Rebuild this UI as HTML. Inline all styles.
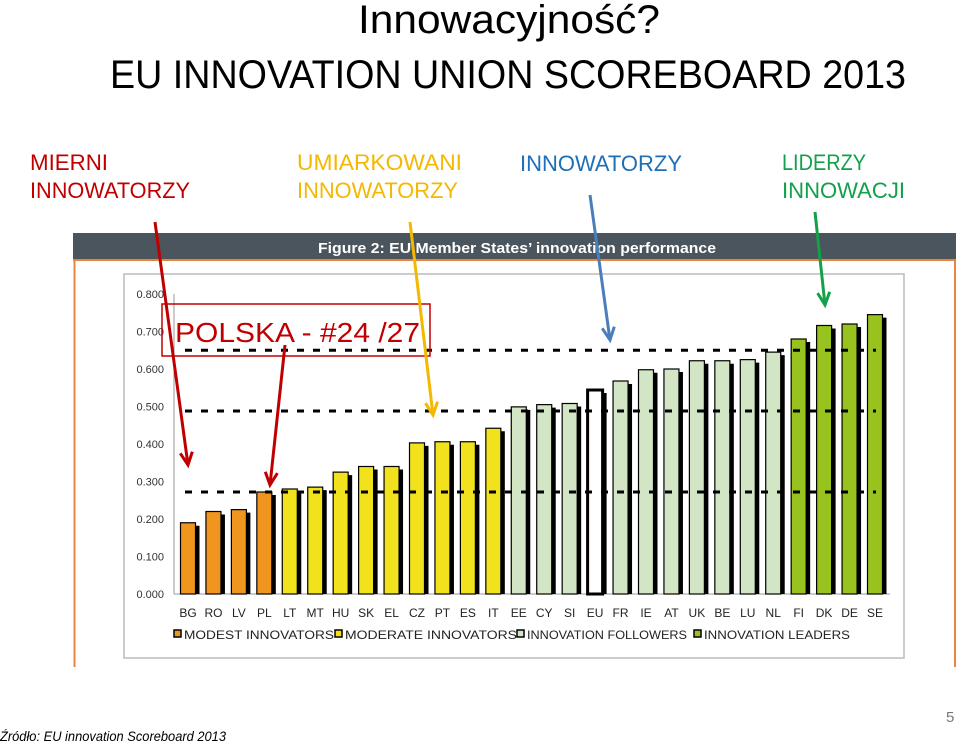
<!DOCTYPE html>
<html><head><meta charset="utf-8"><style>
html,body{margin:0;padding:0;background:#fff;width:960px;height:744px;overflow:hidden}
svg{display:block}
text{font-family:"Liberation Sans Narrow","Liberation Sans",sans-serif}
</style></head><body>
<svg id="s" width="960" height="744" viewBox="0 0 960 744" xmlns="http://www.w3.org/2000/svg">
<text x="358" y="33" font-size="40" textLength="302" lengthAdjust="spacingAndGlyphs">Innowacyjność?</text>
<text x="110" y="88" font-size="40" textLength="796" lengthAdjust="spacingAndGlyphs">EU INNOVATION UNION SCOREBOARD 2013</text>
<g font-size="22">
<text x="30" y="170" fill="#c00000" textLength="78" lengthAdjust="spacingAndGlyphs">MIERNI</text>
<text x="30" y="198" fill="#c00000" textLength="160" lengthAdjust="spacingAndGlyphs">INNOWATORZY</text>
<text x="297" y="170" fill="#f5b800" textLength="165" lengthAdjust="spacingAndGlyphs">UMIARKOWANI</text>
<text x="297" y="198" fill="#f5b800" textLength="161" lengthAdjust="spacingAndGlyphs">INNOWATORZY</text>
<text x="520" y="171" fill="#1f6fb8" textLength="162" lengthAdjust="spacingAndGlyphs">INNOWATORZY</text>
<text x="782" y="170" fill="#13a04a" textLength="84" lengthAdjust="spacingAndGlyphs">LIDERZY</text>
<text x="782" y="198" fill="#13a04a" textLength="123" lengthAdjust="spacingAndGlyphs">INNOWACJI</text>
</g>
<rect x="73" y="233" width="883" height="27" fill="#4b555d"/>
<line x1="73" y1="260" x2="956" y2="260" stroke="#e8843c" stroke-width="2"/>
<text x="318" y="253" font-size="15" fill="#fff" font-weight="bold" textLength="398" lengthAdjust="spacingAndGlyphs" style="font-family:'Liberation Sans',sans-serif">Figure 2: EU Member States’ innovation performance</text>
<line x1="74.5" y1="260" x2="74.5" y2="667" stroke="#e8843c" stroke-width="2"/>
<line x1="955" y1="260" x2="955" y2="667" stroke="#e8843c" stroke-width="2"/>
<rect x="124" y="274" width="780" height="384" fill="#fff" stroke="#bbb" stroke-width="1.5"/>
<g id="chart"></g>
<rect x="162" y="304" width="268" height="52" fill="none" stroke="#c00000" stroke-width="1.5"/>
<text x="175" y="342" font-size="28" fill="#c00000" textLength="245" lengthAdjust="spacingAndGlyphs">POLSKA - #24 /27</text>
<g id="arrows"></g>
<text x="0" y="741" font-size="14" font-style="italic" textLength="226" lengthAdjust="spacingAndGlyphs">Źródło: EU innovation Scoreboard 2013</text>
<text x="946" y="722" font-size="15" fill="#777">5</text>
</svg>
<script>
const categories=["BG","RO","LV","PL","LT","MT","HU","SK","EL","CZ","PT","ES","IT","EE","CY","SI","EU","FR","IE","AT","UK","BE","LU","NL","FI","DK","DE","SE"];
const values=[0.19,0.22,0.225,0.272,0.28,0.285,0.325,0.34,0.34,0.403,0.406,0.406,0.442,0.499,0.505,0.508,0.544,0.568,0.598,0.6,0.622,0.622,0.625,0.645,0.68,0.716,0.72,0.745];
const groups=["m","m","m","m","o","o","o","o","o","o","o","o","o","f","f","f","e","f","f","f","f","f","f","f","l","l","l","l"];
const groupAverages=[0.272,0.488,0.65];
const yTicks=[0,0.1,0.2,0.3,0.4,0.5,0.6,0.7,0.8];
const legendLabels=["MODEST INNOVATORS","MODERATE INNOVATORS","INNOVATION FOLLOWERS","INNOVATION LEADERS"];
const NS="http://www.w3.org/2000/svg";
const g=document.getElementById('chart');
const y0=594,ppu=375,x0=188,step=(875-188)/27,bw=15;
const y=v=>y0-v*ppu, x=i=>x0+i*step;
const fills={m:"#f0951e",o:"#f2e21e",f:"#d2e6c6",e:"#ffffff",l:"#98c21e"};
function mk(t,a,p){const e=document.createElementNS(NS,t);for(const k in a)e.setAttribute(k,a[k]);(p||g).appendChild(e);return e;}
// axis
let ax=mk('line',{x1:174,y1:294,x2:174,y2:y0,stroke:'#999'});


let bx=mk('line',{x1:174,y1:y0,x2:890,y2:y0,stroke:'#999'});


yTicks.forEach(t=>{
 const tl=mk('text',{x:164,y:y(t)+4,'font-size':11,'text-anchor':'end',fill:'#333',style:"font-family:'Liberation Sans',sans-serif"});
 tl.textContent=t.toFixed(3);
 
 
});
categories.forEach((c,i)=>{
 const v=values[i],cx=x(i);
 const sh=mk('rect',{x:cx-bw/2+4,y:y(v)+3,width:bw,height:y0-y(v)-3,fill:'#000'});
 
 
 const b=mk('rect',{x:cx-bw/2,y:y(v),width:bw,height:y0-y(v),fill:fills[groups[i]],stroke:'#000','stroke-width':groups[i]=='e'?3:1.2});
 
 
 const l=mk('text',{x:cx,y:617,'font-size':12,'text-anchor':'middle',fill:'#222',style:"font-family:'Liberation Sans',sans-serif"});
 l.textContent=c;
 
 
});
groupAverages.forEach(a=>{
 const d=mk('line',{x1:185,y1:y(a),x2:876,y2:y(a),stroke:'#000','stroke-width':3,'stroke-dasharray':'7 9'});
 
 
});
const lx=[174,335,517,694],lw=[150,172,160,146],lf=[fills.m,fills.o,fills.f,fills.l];
legendLabels.forEach((t,i)=>{
 const s=mk('rect',{x:lx[i],y:630,width:7,height:7,fill:lf[i],stroke:'#000','stroke-width':1.5});
 
 
 const tx=mk('text',{x:lx[i]+10,y:639,'font-size':12,fill:'#222',textLength:lw[i],lengthAdjust:'spacingAndGlyphs',style:"font-family:'Liberation Sans',sans-serif"});
 tx.textContent=t;
 
 
});
// arrows
const A=document.getElementById('arrows');
[[155,222,188,465,'#c00000'],[285,345,270,485,'#c00000'],[410,222,433,415,'#f5b800'],[590,195,610,340,'#4a7ebb'],[815,212,825,305,'#13a04a']].forEach(a=>{
 const [x1,y1,x2,y2,c]=a;
 const ln=mk('line',{x1,y1,x2,y2,stroke:c,'stroke-width':3},A);
 
 
 const ang=Math.atan2(y2-y1,x2-x1),L=14,w=0.45;
 const p=`${x2-L*Math.cos(ang-w)},${y2-L*Math.sin(ang-w)} ${x2},${y2} ${x2-L*Math.cos(ang+w)},${y2-L*Math.sin(ang+w)}`;
 const h=mk('polyline',{points:p,fill:'none',stroke:c,'stroke-width':3},A);
 
 
});
</script>
</body></html>
